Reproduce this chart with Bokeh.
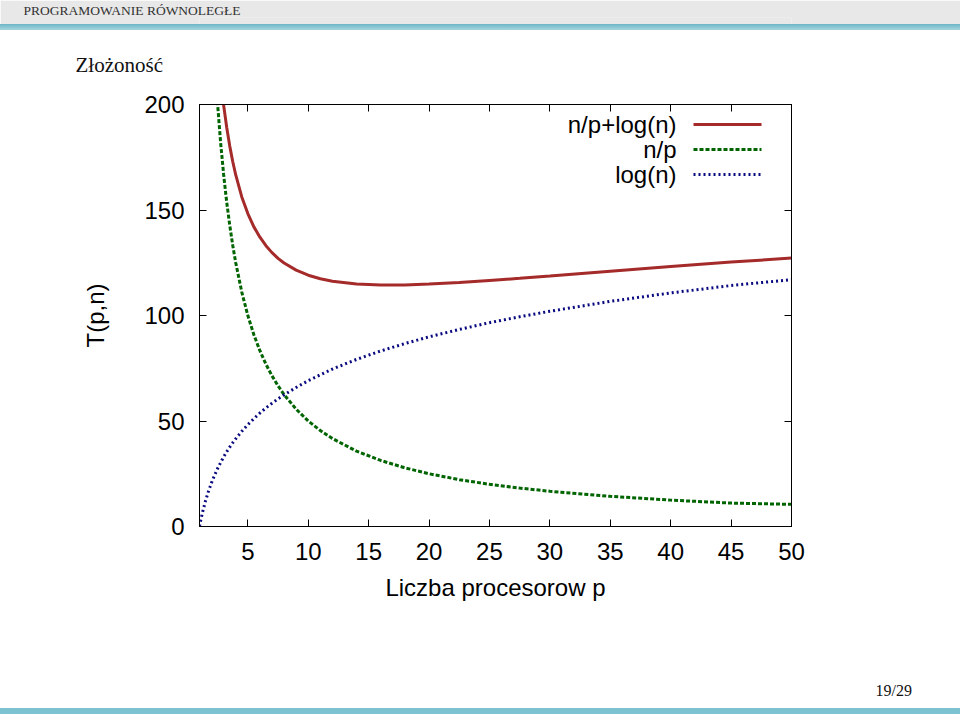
from bokeh.plotting import figure
from bokeh.layouts import column
from bokeh.models import (Range1d, FixedTicker, LinearAxis, Label, Arrow, Title, Spacer,
                          CustomJSTickFormatter, ColumnDataSource)
from bokeh.embed import file_html
from bokeh.resources import INLINE

# ---- data ----
p_values = [1, 1.05, 1.1, 1.25, 1.5, 1.75, 2, 2.25, 2.5, 2.75, 3, 3.25, 3.5, 3.75,
            4, 4.5, 5, 5.5, 6, 6.5, 7, 7.5, 8, 9, 10, 11, 12, 14, 16, 18, 20,
            22.5, 25, 27.5, 30, 35, 40, 45, 50]
np_values = [500, 476.2, 454.5, 400, 333.3, 285.7, 250, 222.2, 200, 181.8, 166.7,
             153.8, 142.9, 133.3, 125, 111.1, 100, 90.9, 83.3, 76.9, 71.4, 66.7,
             62.5, 55.6, 50, 45.5, 41.7, 35.7, 31.3, 27.8, 25, 22.2, 20, 18.2,
             16.7, 14.3, 12.5, 11.1, 10.5]
log_values = [0, 1.5, 2.9, 6.7, 12.2, 16.8, 20.8, 24.3, 27.5, 30.3, 33.0, 35.4,
              37.6, 39.7, 41.6, 45.1, 48.3, 51.1, 53.8, 56.2, 58.4, 60.5, 62.4,
              65.9, 69.1, 71.9, 74.6, 79.2, 83.2, 86.7, 89.9, 93.4, 96.6, 99.4,
              102.0, 106.7, 110.7, 114.2, 117.0]
total_values = [500, 477.7, 457.4, 406.7, 345.5, 302.5, 270.8, 246.6, 227.5, 212.2,
                199.6, 189.2, 180.4, 173.0, 166.6, 156.2, 148.3, 142.0, 137.1,
                133.1, 129.8, 127.1, 124.9, 121.5, 119.1, 117.4, 116.2, 114.9,
                114.4, 114.5, 114.9, 115.6, 116.6, 117.6, 118.7, 121.0, 123.2,
                125.3, 127.2]
x_ticks = [5, 10, 15, 20, 25, 30, 35, 40, 45, 50]
y_ticks = [0, 50, 100, 150, 200]
series_labels = ["n/p+log(n)", "n/p", "log(n)"]
series_colors = ["#a52a2a", "#006400", "#0a0a80"]
series_dashes = ["solid", "4 2", "2 3"]

x_label = "Liczba procesorow p"
y_label = "T(p,n)"
header_text = "PROGRAMOWANIE RÓWNOLEGŁE"
frame_title = "Złożoność"
page_text = "19/29"

SANS = "Liberation Sans"
SERIF = "Liberation Serif"
W = 960
FL, FW, FH = 199, 592, 422
FR = W - FL - FW


def strip(top, frame_h, color, text=None, x=0, size="13px", text_color="#222222"):
    """A full-width band of the slide (figure with no axes) carrying one text."""
    f = figure(frame_width=FW, frame_height=frame_h, min_border_left=FL,
               min_border_right=FR, min_border_top=top, min_border_bottom=0,
               x_range=Range1d(0, 1), y_range=Range1d(0, 1),
               x_axis_location=None, y_axis_location=None, title=None,
               output_backend="svg", toolbar_location=None)
    f.outline_line_color = None
    f.grid.visible = False
    f.background_fill_color = color
    f.border_fill_color = color
    if text is not None:
        f.add_layout(Title(text=text, align="left", offset=x - FL, standoff=0,
                           vertical_align="bottom", text_font=SERIF,
                           text_font_size=size, text_font_style="normal",
                           text_color=text_color), "above")
    return f


def band(h, css_background):
    return Spacer(width=W, height=h, margin=0,
                  styles={"background": css_background})


# ---------------- slide header ----------------
head = strip(17, 7, "#e8e8e8", header_text, x=23, size="13.5px", text_color="#333333")
head_bar = band(6, "linear-gradient(#6cb6c6, #a6d5de)")
ttl = strip(46, 8, "white", frame_title, x=75, size="21px", text_color="#111111")
TOP0 = 84  # page y where the chart figure starts

# ---------------- main chart ----------------
FT = 104 - TOP0
H_MAIN = 670 - TOP0
p = figure(frame_width=FW, frame_height=FH,
           min_border_left=FL, min_border_top=FT,
           min_border_right=FR, min_border_bottom=H_MAIN - FT - FH,
           x_range=Range1d(1, 50), y_range=Range1d(0, 200), title=None,
           output_backend="svg", toolbar_location=None)
p.background_fill_color = "white"
p.border_fill_color = "white"
p.outline_line_color = "black"
p.outline_line_width = 1
p.grid.visible = False

src = ColumnDataSource(dict(p=p_values, np=np_values, lg=log_values, tot=total_values))
p.line("p", "tot", source=src, line_color=series_colors[0], line_width=3)
p.line("p", "np", source=src, line_color=series_colors[1], line_width=3,
       line_dash=series_dashes[1])
p.line("p", "lg", source=src, line_color=series_colors[2], line_width=3,
       line_dash=series_dashes[2])


def style_axis(ax, ticks, show_labels=True):
    ax.ticker = FixedTicker(ticks=ticks)
    ax.axis_line_color = "black"
    ax.axis_line_width = 1
    ax.major_tick_in = 7
    ax.major_tick_out = 0
    ax.minor_tick_in = 0
    ax.minor_tick_out = 0
    ax.major_tick_line_color = "black"
    ax.major_label_text_font = SANS
    ax.major_label_text_font_size = "24px"
    ax.major_label_text_color = "black"
    if not show_labels:
        ax.formatter = CustomJSTickFormatter(code="return ''")
        ax.major_label_text_font_size = "1px"
        ax.major_label_standoff = 0


xa = p.xaxis[0]
ya = p.yaxis[0]
style_axis(xa, x_ticks)
style_axis(ya, y_ticks)
xa.major_label_standoff = 16
ya.major_label_standoff = 15
xa.axis_label = x_label
ya.axis_label = y_label
for ax in (xa, ya):
    ax.axis_label_text_font = SANS
    ax.axis_label_text_font_size = "24px"
    ax.axis_label_text_font_style = "normal"
    ax.axis_label_text_color = "black"
xa.axis_label_standoff = 11
ya.axis_label_standoff = 32

top_ax = LinearAxis()
right_ax = LinearAxis()
style_axis(top_ax, x_ticks, False)
style_axis(right_ax, y_ticks, False)
p.add_layout(top_ax, "above")
p.add_layout(right_ax, "right")


def sx(cx):
    return cx - FL


def sy(cy):
    return (104 + FH) - cy


# legend: text on the left, line sample on the right (as in gnuplot)
leg_y = [124, 149, 174]
for lab, col, dash, yy in zip(series_labels, series_colors, series_dashes, leg_y):
    p.add_layout(Label(x=sx(676), y=sy(yy), x_units="screen", y_units="screen",
                       text=lab, text_font=SANS, text_font_size="24px",
                       text_align="right", text_baseline="middle", text_color="black"))
    p.add_layout(Arrow(end=None, x_start=sx(693), y_start=sy(yy), x_end=sx(761), y_end=sy(yy),
                       start_units="screen", end_units="screen",
                       line_color=col, line_width=3, line_dash=dash))

# ---------------- slide footer ----------------
foot = strip(28, 10, "white", page_text, x=875, size="16px", text_color="#111111")
foot_bar = band(6, "#7cc2d0")

layout = column(head, head_bar, ttl, p, foot, foot_bar, spacing=0)
open("out.html", "w").write(file_html(layout, INLINE))
